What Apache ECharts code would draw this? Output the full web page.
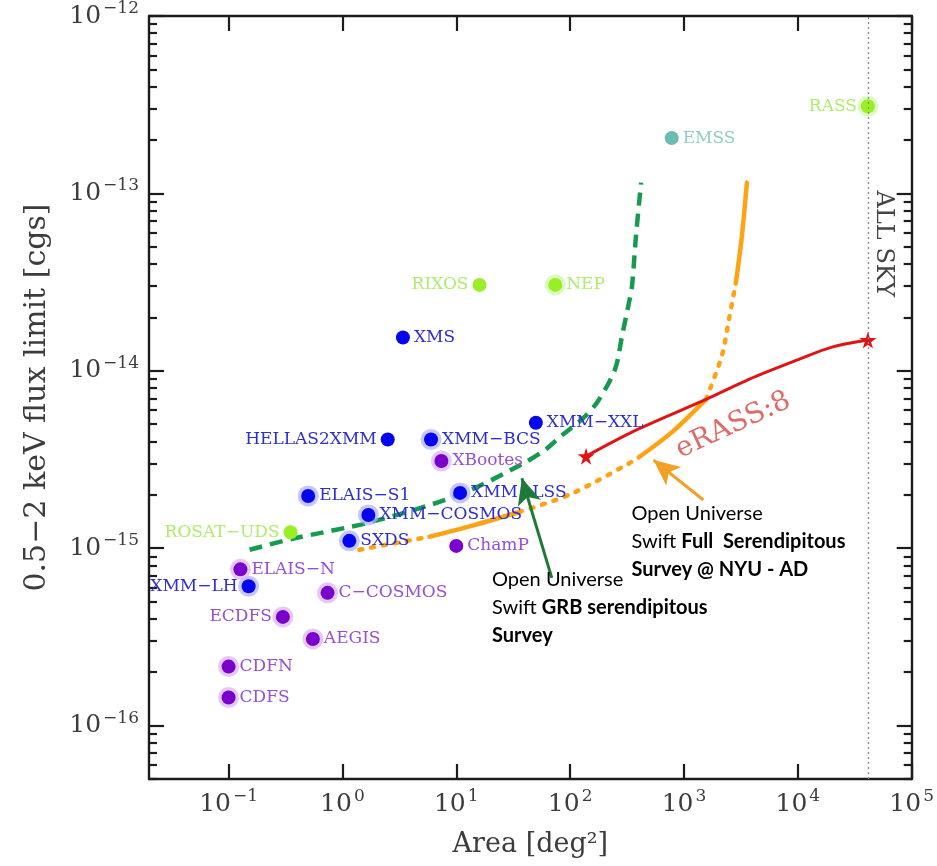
<!DOCTYPE html>
<html><head><meta charset="utf-8">
<script src="https://cdn.jsdelivr.net/npm/echarts@6/dist/echarts.min.js"></script>
<style>html,body{margin:0;padding:0;background:#fff}#c{width:937px;height:866px}</style>
</head><body><div id="c"></div>
<script>
// ---------------- data ----------------
const xTicks = [0.1, 1, 10, 100, 1000, 10000, 100000];
const yTicks = [1e-16, 1e-15, 1e-14, 1e-13, 1e-12];

const blueNames = ['XMS', 'XMM\u2212XXL', 'HELLAS2XMM', 'XMM\u2212BCS', 'ELAIS\u2212S1', 'XMM\u2212LSS', 'XMM\u2212COSMOS', 'SXDS', 'XMM\u2212LH'];
const blueArea  = [3.4, 50, 2.5, 6.0, 0.50, 10.8, 1.69, 1.15, 0.15];
const blueFlux  = [1.54e-14, 5.1e-15, 4.1e-15, 4.1e-15, 1.97e-15, 2.05e-15, 1.54e-15, 1.1e-15, 6.1e-16];

const purpleNames = ['XBootes', 'ChamP', 'ELAIS\u2212N', 'C\u2212COSMOS', 'ECDFS', 'AEGIS', 'CDFN', 'CDFS'];
const purpleArea  = [7.4, 10, 0.127, 0.74, 0.30, 0.55, 0.10, 0.10];
const purpleFlux  = [3.1e-15, 1.03e-15, 7.6e-16, 5.6e-16, 4.1e-16, 3.08e-16, 2.15e-16, 1.44e-16];

const greenNames = ['RASS', 'RIXOS', 'NEP', 'ROSAT\u2212UDS'];
const greenArea  = [41253, 16, 74, 0.35];
const greenFlux  = [3.1e-13, 3.05e-14, 3.05e-14, 1.23e-15];

const tealNames = ['EMSS'];
const tealArea  = [780];
const tealFlux  = [2.05e-13];

const haloNames = ['XMM\u2212BCS', 'XBootes', 'ELAIS\u2212S1', 'XMM\u2212LSS', 'XMM\u2212COSMOS', 'SXDS', 'ELAIS\u2212N', 'XMM\u2212LH', 'C\u2212COSMOS', 'ECDFS', 'AEGIS', 'CDFN', 'CDFS', 'NEP', 'RASS'];
const leftLabelNames = ['RASS', 'RIXOS', 'HELLAS2XMM', 'ROSAT\u2212UDS', 'XMM\u2212LH', 'ECDFS'];

// Swift GRB serendipitous survey (green dashed)
const grbArea = [0.153, 0.364, 1.83, 10.6, 37.9, 61.6, 85, 127, 173, 248, 286, 329, 350, 379, 420];
const grbFlux = [9.8e-16, 1.13e-15, 1.41e-15, 2.0e-15, 2.98e-15, 3.62e-15, 4.34e-15, 5.33e-15, 6.65e-15, 1.02e-14, 1.58e-14, 2.43e-14, 3.03e-14, 5.78e-14, 1.15e-13];

// Swift Full serendipitous survey (orange, alternating dotted / solid)
const fullArea = [1.41, 5.8, 14.4, 35.7, 98, 310, 400, 785, 1560, 2153, 2483, 2858, 3228, 3570];
const fullFlux = [9.8e-16, 1.16e-15, 1.35e-15, 1.6e-15, 2.0e-15, 2.94e-15, 3.25e-15, 4.51e-15, 6.9e-15, 1.22e-14, 1.95e-14, 3.15e-14, 5.78e-14, 1.15e-13];
const fullSegments = [[0, 1, 'dotted'], [1, 3, 'solid'], [3, 6, 'dotted'], [6, 8, 'solid'], [8, 11, 'dotted'], [11, 13, 'solid']];

// eRASS:8 (red)
const eArea = [138, 379, 1560, 3716, 10200, 19900, 41253];
const eFlux = [3.3e-15, 4.63e-15, 6.9e-15, 8.96e-15, 1.16e-14, 1.36e-14, 1.49e-14];

const allSkyArea = 41253;

// annotation anchors (data coordinates)
const grbArrow  = [[69, 6.8e-16], [37.7, 2.48e-15]];
const fullArrow = [[1479, 1.87e-15], [540, 3.14e-15]];
const grbTextAnchor  = [20.6, 7.94e-16];
const fullTextAnchor = [346, 1.89e-15];
const erassTextAnchor = [2710, 4.93e-15];
const allSkyTextAnchor = [55700, 5.2e-14];

// ---------------- chart ----------------
const SERIF = '"DejaVu Serif", "Liberation Serif", serif';
const yMinor = [];
for (let d = -17; d <= -13; d++) for (let k = 2; k <= 9; k++) {
  const v = +(k * Math.pow(10, d)).toPrecision(3);
  if (v >= 5e-17 && v <= 1e-12) yMinor.push(v);
}
function powLabel(v) {
  const e = Math.round(Math.log10(v));
  const s = e < 0 ? '\u2212' + (-e) : '' + e;
  return '{b|10}{s|' + s + '}';
}
const TXT = '#3c3c3c';
const labelRich = {
  b: { fontFamily: SERIF, fontSize: 25, color: TXT, lineHeight: 32 },
  s: { fontFamily: SERIF, fontSize: 17, color: TXT, verticalAlign: 'top', lineHeight: 20, padding: [0, 0, 0, 2] }
};
const AX = '#1c1c1c';
function tick(len, vals) { return { show: true, inside: true, length: len, customValues: vals, lineStyle: { color: AX, width: 2.2 } }; }
const baseLog = { type: 'log', logBase: 10, splitLine: { show: false }, axisLine: { show: true, lineStyle: { color: AX, width: 2.4 } } };

function mkPoints(names, area, flux) {
  return names.map((n, i) => ({
    name: n, value: [area[i], flux[i]],
    label: { position: leftLabelNames.includes(n) ? 'left' : 'right' }
  }));
}
function mkHalo(names, area, flux) {
  return names.map((n, i) => ({ name: n, value: [area[i], flux[i]] })).filter(d => haloNames.includes(d.name));
}
function scatterGroup(name, names, area, flux, color, labelColor, haloColor) {
  return [{
    name: name + ' halo', type: 'scatter', symbolSize: 21, z: 3, silent: true,
    itemStyle: { color: haloColor, opacity: 1 }, data: mkHalo(names, area, flux), label: { show: false }
  }, {
    name: name, type: 'scatter', symbolSize: 14, z: 4,
    itemStyle: { color: color, opacity: 1 },
    label: { show: true, formatter: '{b}', fontFamily: SERIF, fontSize: 17, color: labelColor, distance: 4 },
    data: mkPoints(names, area, flux)
  }];
}
const pairs = (a, b) => a.map((x, i) => [x, b[i]]);

const series = [];
series.push({
  name: 'Swift GRB', type: 'line', smooth: 0.3, symbol: 'none', z: 2,
  lineStyle: { color: '#159a50', width: 4.5, type: [13, 8] },
  data: pairs(grbArea, grbFlux)
});
fullSegments.forEach(([a, b, st]) => {
  series.push({
    name: 'Swift Full', type: 'line', smooth: 0.3, symbol: 'none', z: 2,
    lineStyle: { color: '#ffa214', width: 4.5, type: st === 'dotted' ? [3, 9] : 'solid', cap: 'round' },
    data: pairs(fullArea.slice(a, b + 1), fullFlux.slice(a, b + 1))
  });
});
series.push({
  name: 'eRASS:8', type: 'line', smooth: 0.3, symbol: 'none', z: 2,
  lineStyle: { color: '#e01414', width: 3 },
  data: pairs(eArea, eFlux),
  markLine: {
    silent: true, animation: false, label: { show: false },
    data: [
      [{ xAxis: allSkyArea, yAxis: 5e-17, symbol: 'none', lineStyle: { color: '#8a8a8a', width: 1.3, type: [2, 3] } },
       { xAxis: allSkyArea, yAxis: 1e-12, symbol: 'none' }],
      [{ coord: grbArrow[0], symbol: 'none', lineStyle: { color: '#1f7a3a', width: 3, type: 'solid' } },
       { coord: grbArrow[1], symbol: 'arrow', symbolSize: [18, 26] }],
      [{ coord: fullArrow[0], symbol: 'none', lineStyle: { color: '#f4a024', width: 3, type: 'solid' } },
       { coord: fullArrow[1], symbol: 'arrow', symbolSize: [18, 26] }]
    ]
  }
});
series.push({
  name: 'eRASS ends', type: 'scatter', z: 3, silent: true,
  symbol: 'path://M50,0 L61,35 L98,35 L68,57 L79,91 L50,70 L21,91 L32,57 L2,35 L39,35 Z',
  symbolSize: 17, itemStyle: { color: '#e01414', opacity: 1 },
  data: [[eArea[0], eFlux[0]], [eArea[eArea.length - 1], eFlux[eFlux.length - 1]]]
});
series.push(...scatterGroup('blue', blueNames, blueArea, blueFlux, '#0606ee', '#2e2ed0', 'rgba(175,175,255,0.7)'));
series.push(...scatterGroup('purple', purpleNames, purpleArea, purpleFlux, '#7a00cc', '#9650d8', 'rgba(220,175,248,0.7)'));
series.push(...scatterGroup('green', greenNames, greenArea, greenFlux, '#99ee26', '#b0ec6c', 'rgba(205,250,165,0.7)'));
series.push(...scatterGroup('teal', tealNames, tealArea, tealFlux, '#6cbcb0', '#90cdc3', 'rgba(200,235,230,0.7)'));

const option = {
  animation: false,
  backgroundColor: '#ffffff',
  grid: { left: 149, right: 23, top: 15, bottom: 87 },
  xAxis: [
    Object.assign({}, baseLog, {
      position: 'bottom', min: 0.02, max: 1e5,
      axisTick: tick(15, xTicks),
      axisLabel: { customValues: xTicks, formatter: powLabel, rich: labelRich, margin: 9 },
      name: 'Area [deg\u00b2]', nameLocation: 'middle', nameGap: 52,
      nameTextStyle: { fontFamily: SERIF, fontSize: 27, color: TXT }
    }),
    Object.assign({}, baseLog, {
      position: 'top', min: 0.02, max: 1e5,
      axisTick: tick(15, xTicks), axisLabel: { show: false }
    })
  ],
  yAxis: [
    Object.assign({}, baseLog, {
      position: 'left', min: 5e-17, max: 1e-12,
      axisTick: tick(15, yTicks),
      axisLabel: { customValues: yTicks, formatter: powLabel, rich: labelRich, margin: 10 },
      name: '0.5\u22122 keV flux limit [cgs]', nameLocation: 'middle', nameGap: 97,
      nameTextStyle: { fontFamily: SERIF, fontSize: 30, color: TXT }
    }),
    Object.assign({}, baseLog, {
      position: 'left', min: 5e-17, max: 1e-12, axisLine: { show: false },
      axisTick: tick(8, yMinor), axisLabel: { show: false }
    }),
    Object.assign({}, baseLog, {
      position: 'right', min: 5e-17, max: 1e-12,
      axisTick: tick(15, yTicks), axisLabel: { show: false }
    }),
    Object.assign({}, baseLog, {
      position: 'right', min: 5e-17, max: 1e-12, axisLine: { show: false },
      axisTick: tick(8, yMinor), axisLabel: { show: false }
    })
  ],
  series: series
};
const chart = echarts.init(document.getElementById('c'));
chart.setOption(option);

const px = p => chart.convertToPixel({ xAxisIndex: 0, yAxisIndex: 0 }, p);
const SANS = 'Lato, "Open Sans", sans-serif';
const g1 = px(grbTextAnchor), g2 = px(fullTextAnchor), g3 = px(erassTextAnchor), g4 = px(allSkyTextAnchor);
chart.setOption({
  graphic: [
    { type: 'text', x: g1[0], y: g1[1], z: 10, style: {
      text: '{n|Open Universe}\n{n|Swift }{b|GRB serendipitous}\n{b|Survey}',
      verticalAlign: 'top', align: 'left',
      rich: { n: { fontFamily: SANS, fontSize: 20, color: '#111', lineHeight: 28 },
              b: { fontFamily: SANS, fontSize: 20, fontWeight: 'bold', color: '#111', lineHeight: 28 } } } },
    { type: 'text', x: g2[0], y: g2[1], z: 10, style: {
      text: '{n|Open Universe}\n{n|Swift }{r|Full  Serendipitous}\n{r|Survey @ NYU - AD}',
      verticalAlign: 'top', align: 'left',
      rich: { n: { fontFamily: SANS, fontSize: 20, color: '#111', lineHeight: 28 },
              r: { fontFamily: SANS, fontSize: 20, fontWeight: 'bold', color: '#c8101a', lineHeight: 28 } } } },
    { type: 'text', x: g3[0], y: g3[1], rotation: 25 * Math.PI / 180, z: 10, style: {
      text: 'eRASS:8', fontFamily: SERIF, fontSize: 28, fill: '#e06a6a', align: 'center', verticalAlign: 'middle' } },
    { type: 'text', x: g4[0], y: g4[1], rotation: -Math.PI / 2, z: 10, style: {
      text: 'ALL SKY', fontFamily: SERIF, fontSize: 24, fill: '#444', align: 'center', verticalAlign: 'middle' } }
  ]
});
</script>
</body></html>
